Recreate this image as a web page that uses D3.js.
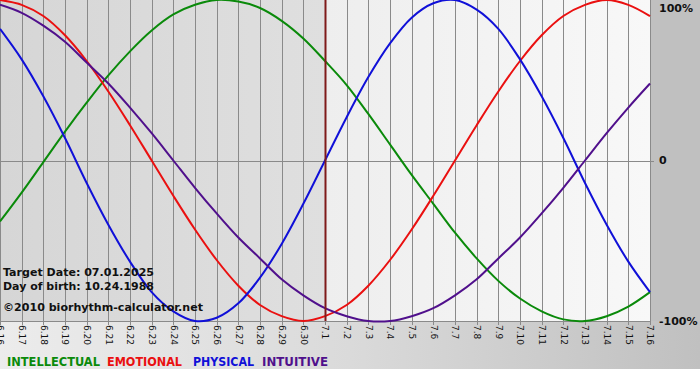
<!DOCTYPE html>
<html><head><meta charset="utf-8">
<script src="https://cdn.jsdelivr.net/npm/d3@7"></script>
<style>html,body{margin:0;padding:0;background:#fff;}svg{display:block;}</style>
</head><body>
<script>
const dates = ["6.16","6.17","6.18","6.19","6.20","6.21","6.22","6.23","6.24","6.25","6.26","6.27","6.28","6.29","6.30",
  "7.1","7.2","7.3","7.4","7.5","7.6","7.7","7.8","7.9","7.10","7.11","7.12","7.13","7.14","7.15","7.16"];
const intellectual = [-0.38,-0.20,-0.01,0.18,0.36,0.53,0.68,0.81,0.91,0.97,1.00,0.99,0.95,0.87,0.76,0.62,0.47,0.29,0.10,-0.09,-0.27,-0.45,-0.61,-0.75,-0.86,-0.94,-0.99,-1.00,-0.97,-0.91,-0.82];
const emotional = [1.00,0.97,0.90,0.78,0.62,0.43,0.22,0.00,-0.22,-0.43,-0.62,-0.78,-0.90,-0.97,-1.00,-0.97,-0.90,-0.78,-0.62,-0.43,-0.22,0.00,0.22,0.43,0.62,0.78,0.90,0.97,1.00,0.97,0.90];
const physical = [0.82,0.63,0.40,0.14,-0.14,-0.40,-0.63,-0.82,-0.94,-1.00,-0.98,-0.89,-0.73,-0.52,-0.27,0.00,0.27,0.52,0.73,0.89,0.98,1.00,0.94,0.82,0.63,0.40,0.14,-0.14,-0.40,-0.63,-0.82];
const intuitive = [0.97,0.92,0.84,0.74,0.61,0.48,0.33,0.17,0.00,-0.17,-0.33,-0.48,-0.61,-0.74,-0.84,-0.92,-0.97,-1.00,-1.00,-0.97,-0.92,-0.84,-0.74,-0.61,-0.48,-0.33,-0.17,0.00,0.17,0.33,0.48];
const yTicks = [1, 0, -1];
const yTickLabels = ["100%", "0", "-100%"];
const targetDate = "7.1";
const infoLines = ["Target Date: 07.01.2025", "Day of birth: 10.24.1988", "\u00a92010 biorhythm-calculator.net"];
const legendNames = ["INTELLECTUAL", "EMOTIONAL", "PHYSICAL", "INTUITIVE"];

const W = 700, H = 380;
const L = 0, R = 650, T = 0, B = 321;
const svg = d3.select("body").append("svg").attr("width", W).attr("height", H);
const defs = svg.append("defs");
function grad(id, stops, x2, y2) {
  const g = defs.append("linearGradient").attr("id", id).attr("x1", 0).attr("y1", 0).attr("x2", x2).attr("y2", y2);
  stops.forEach(([o, c]) => g.append("stop").attr("offset", o).attr("stop-color", c));
}
grad("gLeft", [[0, "#d6d6d6"], [1, "#dfdfdf"]], 1, 0);
grad("gRight", [[0, "#eeeeee"], [1, "#f8f8f8"]], 1, 0);
grad("gBottom", [[0, "#ececec"], [0.5, "#dadada"], [1, "#c0c0c0"]], 1, 0);

const x = d3.scaleLinear().domain([0, dates.length - 1]).range([L, R]);
const y = d3.scaleLinear().domain([-1, 1]).range([B, T]);
const xi = dates.indexOf(targetDate);

// backgrounds
svg.append("rect").attr("x", 0).attr("y", 0).attr("width", W).attr("height", 369).attr("fill", "url(#gBottom)");
svg.append("rect").attr("x", R).attr("y", 0).attr("width", W - R).attr("height", B).attr("fill", "#c0c0c0");
svg.append("rect").attr("x", L).attr("y", T).attr("width", x(xi) - L).attr("height", B - T).attr("fill", "url(#gLeft)");
svg.append("rect").attr("x", x(xi)).attr("y", T).attr("width", R - x(xi)).attr("height", B - T).attr("fill", "url(#gRight)");

// vertical gridlines
svg.append("g").selectAll("line").data(dates).join("line")
  .attr("x1", (d, i) => Math.round(x(i)) + 0.5).attr("x2", (d, i) => Math.round(x(i)) + 0.5)
  .attr("y1", T).attr("y2", B + 4).attr("stroke", "#8a8a8a").attr("stroke-width", 1);
// zero line
svg.append("line").attr("x1", L).attr("x2", R + 4).attr("y1", Math.round(y(0)) + 0.5).attr("y2", Math.round(y(0)) + 0.5)
  .attr("stroke", "#8a8a8a");
// bottom axis line
svg.append("line").attr("x1", L).attr("x2", R).attr("y1", B + 0.5).attr("y2", B + 0.5).attr("stroke", "#8a8a8a");

// x tick labels (rotated)
svg.append("g").selectAll("text").data(dates).join("text")
  .attr("transform", (d, i) => `translate(${x(i) + 0.5},325) rotate(90)`)
  .attr("dy", "0.35em")
  .attr("font-family", "DejaVu Sans, Verdana, sans-serif").attr("font-size", 9)
  .attr("fill", "#111").text(d => d);

// y tick labels
svg.append("g").selectAll("text").data(yTicks).join("text")
  .attr("x", 659).attr("y", d => Math.min(Math.max(y(d), 8), 321)).attr("dy", "0.36em")
  .attr("font-family", "DejaVu Sans, Verdana, sans-serif").attr("font-size", 11).attr("font-weight", "bold")
  .attr("fill", "#111").text((d, i) => yTickLabels[i]);

// series
const series = [
  { name: legendNames[0], values: intellectual, color: "#0a8a0a" },
  { name: legendNames[1], values: emotional, color: "#ea1010" },
  { name: legendNames[2], values: physical, color: "#1010d8" },
  { name: legendNames[3], values: intuitive, color: "#50108c" }
];
const line = d3.line().x((d, i) => x(i)).y(d => y(d)).curve(d3.curveCatmullRom.alpha(0.5));
svg.append("g").selectAll("path").data(series).join("path")
  .attr("d", s => line(s.values)).attr("fill", "none").attr("stroke", s => s.color).attr("stroke-width", 2);

// target date line
svg.append("line").attr("x1", x(xi) + 0.5).attr("x2", x(xi) + 0.5).attr("y1", T).attr("y2", B)
  .attr("stroke", "#7f1a1a").attr("stroke-width", 2);

// info text
const infoW = [151, 151, 200];
svg.append("g").selectAll("text").data(infoLines).join("text")
  .attr("x", 3).attr("y", (d, i) => [276, 290, 311][i])
  .attr("textLength", (d, i) => infoW[i]).attr("lengthAdjust", "spacingAndGlyphs")
  .attr("font-family", "DejaVu Sans, Verdana, sans-serif").attr("font-size", 11).attr("font-weight", "bold")
  .attr("fill", "#111").text(d => d);

// legend
const legendX = [7, 107, 193, 262];
const legendW = [93, 75, 61, 66];
svg.append("g").selectAll("text").data(series).join("text")
  .attr("x", (d, i) => legendX[i]).attr("y", 366)
  .attr("textLength", (d, i) => legendW[i]).attr("lengthAdjust", "spacingAndGlyphs")
  .attr("font-family", "DejaVu Sans, Verdana, sans-serif").attr("font-size", 11.5).attr("font-weight", "bold")
  .attr("fill", d => d.color).text(d => d.name);
</script>
</body></html>
